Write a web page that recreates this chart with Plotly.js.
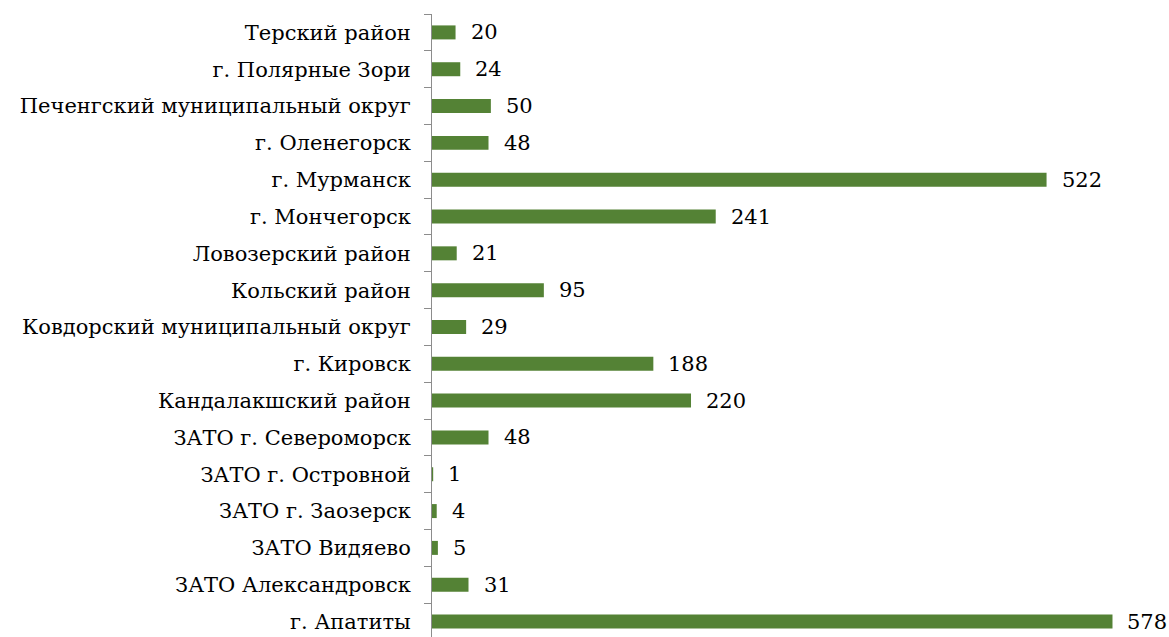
<!DOCTYPE html>
<html><head><meta charset="utf-8">
<script src="https://cdn.plot.ly/plotly-3.0.1.min.js"></script>
<style>html,body{margin:0;padding:0;background:#fff}</style>
</head><body>
<div id="chart" style="width:1169px;height:637px"></div>
<script>
const categories = ["г. Апатиты","ЗАТО Александровск","ЗАТО Видяево","ЗАТО г. Заозерск","ЗАТО г. Островной","ЗАТО г. Североморск","Кандалакшский район","г. Кировск","Ковдорский муниципальный округ","Кольский район","Ловозерский район","г. Мончегорск","г. Мурманск","г. Оленегорск","Печенгский муниципальный округ","г. Полярные Зори","Терский район"];
const values = [578,31,5,4,1,48,220,188,29,95,21,241,522,48,50,24,20];

const FONT = "DejaVu Serif";
const annotations = categories.map((c,i)=>({
  x: values[i], y: c, xref:'x', yref:'y', text: String(values[i]),
  showarrow:false, xanchor:'left', xshift:13,
  font:{family:FONT, size:21, color:'#000'}
}));

const YR = [-0.42,16.5];
Plotly.newPlot('chart',[{
  type:'bar', orientation:'h', x: values, y: categories,
  marker:{color:'#548235', line:{width:0}}, hoverinfo:'none'
}],{
  width:1169, height:637,
  margin:{l:432, r:0, t:14, b:0, pad:0},
  paper_bgcolor:'#fff', plot_bgcolor:'rgba(0,0,0,0)',
  bargap:0.62, showlegend:false,
  font:{family:FONT, size:21, color:'#000'},
  xaxis:{range:[0,626], visible:false, showgrid:false, zeroline:false, fixedrange:true},
  yaxis:{type:'category', range:YR, showline:true, linecolor:'#8c8c8c', linewidth:1,
    ticks:'outside', tickson:'boundaries', ticklen:7, tickcolor:'#8c8c8c', tickwidth:1,
    showgrid:false, zeroline:false, automargin:false, ticklabelstandoff:16,
    tickfont:{family:FONT, size:21, color:'#000'}},
  annotations: annotations
},{staticPlot:true});
</script>
</body></html>
